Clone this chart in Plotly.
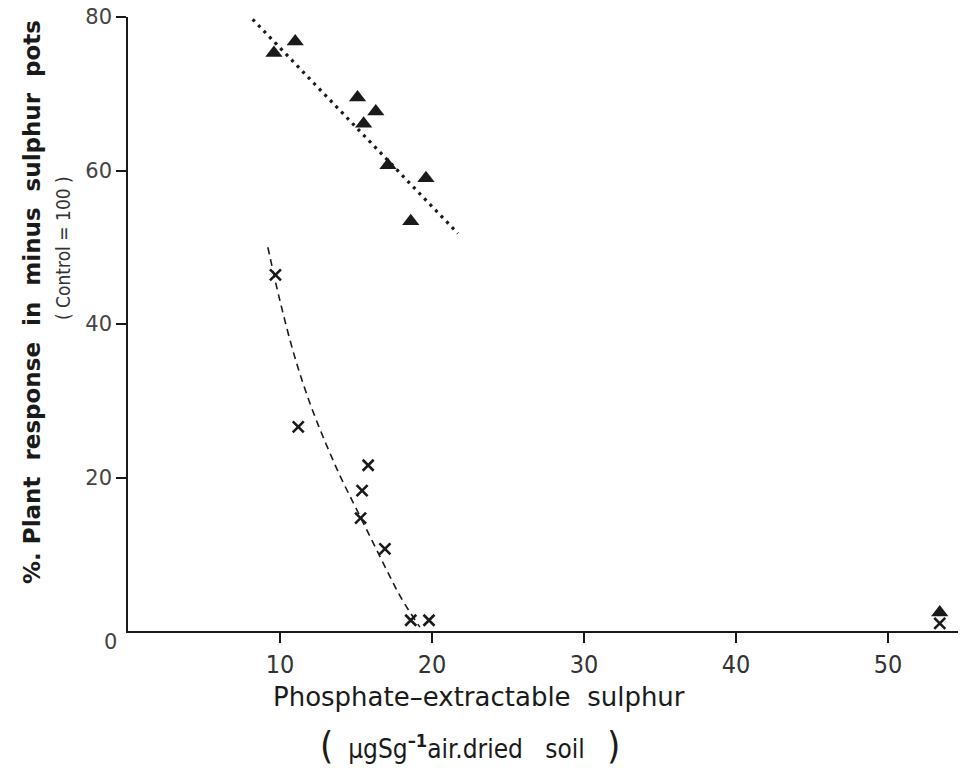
import plotly.graph_objects as go

# Triangles (upper series)
tri_x = [9.6, 11.0, 15.1, 16.3, 15.5, 17.1, 19.6, 18.6, 53.4]
tri_y = [75.3, 76.8, 69.5, 67.7, 66.1, 60.7, 59.0, 53.4, 2.4]

# Crosses (lower series)
crs_x = [9.7, 11.2, 15.8, 15.4, 15.3, 16.9, 18.6, 19.8, 53.4]
crs_y = [46.4, 26.6, 21.6, 18.3, 14.7, 10.7, 1.4, 1.4, 1.0]

# Fitted lines
dot_x = [8.2, 21.7]
dot_y = [79.7, 51.8]
dash_x = [9.2, 10.0, 11.0, 12.0, 13.0, 14.0, 15.0, 16.0, 17.0, 18.0, 19.2]
dash_y = [50.0, 43.0, 35.5, 29.5, 24.5, 20.0, 16.0, 12.0, 8.0, 4.2, 0.5]

x_ticks = [10, 20, 30, 40, 50]
y_ticks = [20, 40, 60, 80]

INK = "#1a1a1a"
COND = "DejaVu Sans Condensed, DejaVu Sans, sans-serif"

fig = go.Figure()
fig.add_trace(go.Scatter(x=dot_x, y=dot_y, mode="lines",
                         line=dict(color=INK, width=3.2, dash="3px,5px"),
                         showlegend=False))
fig.add_trace(go.Scatter(x=dash_x, y=dash_y, mode="lines", line_shape="spline",
                         line=dict(color=INK, width=1.6, dash="7px,5px"),
                         showlegend=False))
fig.add_trace(go.Scatter(x=tri_x, y=tri_y, mode="markers",
                         marker=dict(symbol="triangle-up", size=15, color=INK),
                         showlegend=False))
fig.add_trace(go.Scatter(x=crs_x, y=crs_y, mode="markers",
                         marker=dict(symbol="x-thin", size=11,
                                     line=dict(color=INK, width=2.6)),
                         showlegend=False))

L, R, T, B = 128, 2, 17, 139
W, H = 960, 770
pw, ph = W - L - R, H - T - B


def px(xp, yp):
    return (xp - L) / pw, (H - B - yp) / ph


fig.update_layout(
    width=W, height=H,
    margin=dict(l=L, r=R, t=T, b=B),
    paper_bgcolor="white", plot_bgcolor="white",
    xaxis=dict(range=[0, 54.6], tickvals=x_ticks, ticktext=[str(v) for v in x_ticks],
               showgrid=False, zeroline=False, showline=True, linecolor=INK, linewidth=1.5,
               ticks="outside", ticklen=10, tickwidth=1.5, tickcolor=INK,
               tickfont=dict(family=COND, size=25, color="#333")),
    yaxis=dict(range=[0, 80], tickvals=y_ticks, ticktext=[str(v) for v in y_ticks],
               showgrid=False, zeroline=False, showline=True, linecolor=INK, linewidth=1.5,
               ticks="outside", ticklen=10, tickwidth=1.5, tickcolor=INK,
               tickfont=dict(family="DejaVu Sans, sans-serif", size=21, color="#444")),
)

anns = []
x0, y0 = px(110, 642)
anns.append(dict(x=x0, y=y0, text="0", font=dict(family="DejaVu Sans", size=21, color="#444")))
x1, y1 = px(479, 697)
anns.append(dict(x=x1, y=y1, text="Phosphate\u2013extractable  sulphur",
                 font=dict(family="DejaVu Sans, sans-serif", size=26, color=INK)))
x2, y2 = px(470, 745)
anns.append(dict(x=x2, y=y2,
                 text="<span style='font-size:38px'>(</span>&nbsp;&nbsp;\u00b5gSg<b><sup>\u20131</sup></b>air.dried&nbsp;&nbsp;&nbsp;soil&nbsp;&nbsp;&nbsp;<span style='font-size:38px'>)</span>",
                 font=dict(family=COND, size=26, color=INK)))
x3, y3 = px(32, 302)
anns.append(dict(x=x3, y=y3, text="<b>%. Plant  response  in  minus  sulphur  pots</b>", textangle=-90,
                 font=dict(family="DejaVu Sans, sans-serif", size=23, color=INK)))
x4, y4 = px(63, 248)
anns.append(dict(x=x4, y=y4, text="( Control = 100 )", textangle=-90,
                 font=dict(family=COND, size=19, color="#333")))
for a in anns:
    a.update(xref="paper", yref="paper", showarrow=False, xanchor="center", yanchor="middle")
fig.update_layout(annotations=anns)

fig.write_html("out.html")
